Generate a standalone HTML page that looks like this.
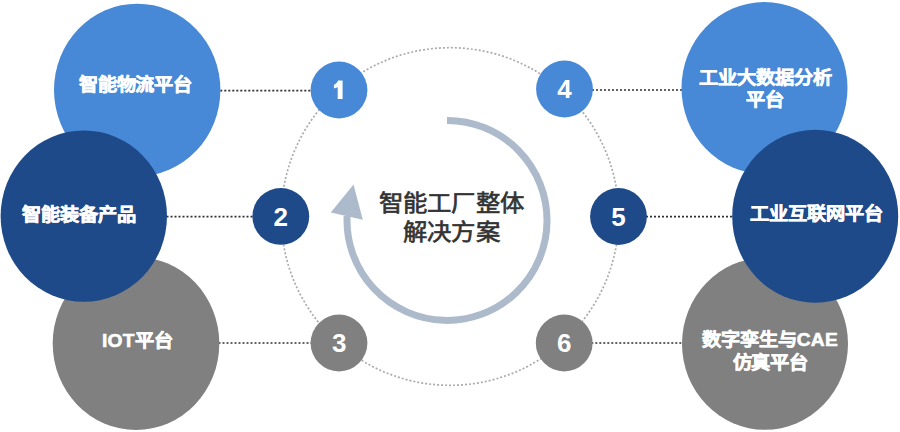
<!DOCTYPE html>
<html lang="zh-CN"><head><meta charset="utf-8">
<style>
html,body{margin:0;padding:0;background:#fff;width:900px;height:432px;overflow:hidden}
svg{display:block}
text{font-family:"Liberation Sans",sans-serif}
.w{fill:#fff;stroke:#fff;stroke-width:0.6px;font-weight:700;font-size:19.2px;letter-spacing:0.2px}
.n{fill:#fff;font-weight:700;font-size:26px}
.w,.c{transform-box:fill-box;transform-origin:50% 50%;transform:scaleY(0.92)}
.c{fill:#333;stroke:#333;stroke-width:0.7px;font-weight:400;font-size:24.4px;letter-spacing:0.3px}
</style></head>
<body>
<svg width="900" height="432" viewBox="0 0 900 432">
  <!-- big dotted circle -->
  <circle cx="450" cy="216.5" r="168.8" fill="none" stroke="#ababab" stroke-width="1.7" stroke-dasharray="2 2"/>
  <!-- connector lines -->
  <g stroke="#303030" stroke-width="1.7" stroke-dasharray="2 2">
    <line x1="220.3" y1="90.7" x2="320" y2="90.7"/>
    <line x1="166.5" y1="216.6" x2="262" y2="216.6"/>
    <line x1="218.5" y1="343" x2="320" y2="343"/>
    <line x1="584" y1="90" x2="684" y2="90"/>
    <line x1="638" y1="216.7" x2="734" y2="216.7"/>
    <line x1="583.3" y1="343" x2="684" y2="343"/>
  </g>
  <!-- big ellipses -->
  <ellipse cx="137.2" cy="90" rx="83.2" ry="86.3" fill="#4788d7"/>
  <ellipse cx="136" cy="343.5" rx="83.3" ry="86.5" fill="#808080"/>
  <ellipse cx="83.8" cy="216.1" rx="83.2" ry="85.7" fill="#1f4a8a"/>
  <ellipse cx="764.5" cy="88" rx="83" ry="86" fill="#4788d7"/>
  <ellipse cx="765" cy="343.8" rx="83" ry="86" fill="#808080"/>
  <ellipse cx="815.2" cy="216.25" rx="83" ry="86.5" fill="#1f4a8a"/>
  <!-- small circles -->
  <circle cx="339" cy="90" r="28.4" fill="#4788d7"/>
  <circle cx="280.8" cy="216.4" r="28.4" fill="#1f4a8a"/>
  <circle cx="339" cy="343" r="28.4" fill="#808080"/>
  <circle cx="564.5" cy="89" r="28.4" fill="#4788d7"/>
  <circle cx="618.5" cy="216.5" r="28.4" fill="#1f4a8a"/>
  <circle cx="564.2" cy="343" r="28.4" fill="#808080"/>
  <!-- ring arc -->
  <path d="M447 120.4 A100 100 0 1 1 347.1 216" fill="none" stroke="#adbacc" stroke-width="7"/>
  <polygon points="353.5,184.4 330.8,212.5 362.8,219.7" fill="#adbacc"/>
  <!-- texts -->
  <text class="w" x="135.5" y="91.5" text-anchor="middle">智能物流平台</text>
  <text class="w" x="79" y="221.3" text-anchor="middle">智能装备产品</text>
  <text class="w" x="137.3" y="348" text-anchor="middle">IOT平台</text>
  <text class="w" x="765.5" y="84.7" text-anchor="middle">工业大数据分析</text>
  <text class="w" x="765.1" y="107" text-anchor="middle">平台</text>
  <text class="w" x="816.4" y="221" text-anchor="middle">工业互联网平台</text>
  <text class="w" x="770" y="346.5" text-anchor="middle">数字孪生与CAE</text>
  <text class="w" x="770.4" y="369.5" text-anchor="middle">仿真平台</text>
  <text class="c" x="451.5" y="211.6" text-anchor="middle">智能工厂整体</text>
  <text class="c" x="451.5" y="240.6" text-anchor="middle">解决方案</text>
  <path d="M338.2 80.5 H342.6 V98.9 H337.7 V87.3 L333.9 88.6 V84.9 Q336.6 84.2 338.2 80.5 Z" fill="#fff"/>
  <text class="n" x="280.8" y="226" text-anchor="middle">2</text>
  <text class="n" x="339.3" y="352" text-anchor="middle">3</text>
  <text class="n" x="564.5" y="98" text-anchor="middle">4</text>
  <text class="n" x="618.4" y="226" text-anchor="middle">5</text>
  <text class="n" x="564.2" y="352" text-anchor="middle">6</text>
</svg>
</body></html>
